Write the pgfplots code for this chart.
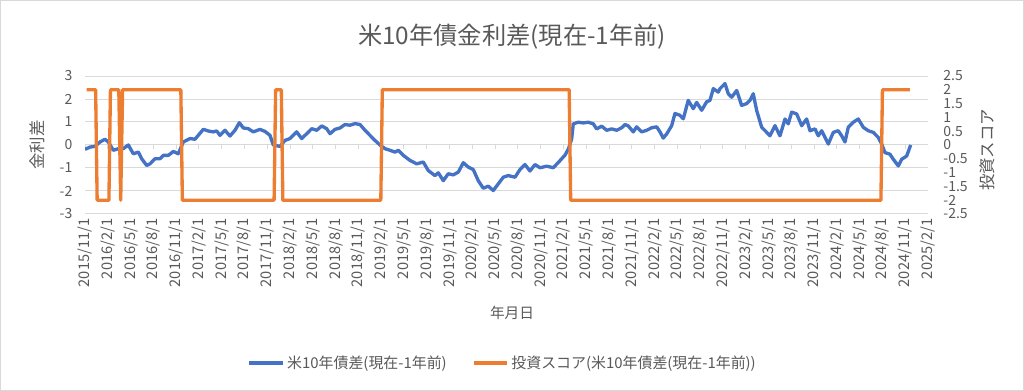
\documentclass[border=0pt]{standalone}
\usepackage{fontspec}
\setmainfont{Noto Sans CJK JP}
\usepackage{pgfplots}
\pgfplotsset{compat=1.18}
\definecolor{exblue}{HTML}{4472C4}
\definecolor{exorange}{HTML}{ED7D31}
\definecolor{txt}{HTML}{595959}
\definecolor{gridc}{HTML}{D9D9D9}
\begin{document}
\begin{tikzpicture}[font=\fontsize{10.5}{12}\selectfont]
\draw[gridc, line width=0.75pt] (0.375pt,0.375pt) rectangle (767.625pt,292.875pt);
\node[text=txt, font=\fontsize{18.2}{21}\selectfont] at (384pt,265.5pt) {米10年債金利差(現在-1年前)};
\node[text=txt, font=\fontsize{11}{13}\selectfont] at (384pt,58.5pt) {年月日};
\node[text=txt, rotate=90, font=\fontsize{12.3}{14}\selectfont] at (27.75pt,184.5pt) {金利差};
\node[text=txt, rotate=90, font=\fontsize{12.3}{14}\selectfont] at (740.25pt,180.75pt) {投資スコア};
\begin{axis}[
 at={(63.75pt,132.75pt)}, anchor=south west,
 width=632.25pt, height=103.5pt, scale only axis,
 xmin=0, xmax=111, ymin=-3, ymax=3,
 xtick={0,3,...,111},
 xticklabels={2015/11/1,2016/2/1,2016/5/1,2016/8/1,2016/11/1,2017/2/1,2017/5/1,2017/8/1,2017/11/1,2018/2/1,2018/5/1,2018/8/1,2018/11/1,2019/2/1,2019/5/1,2019/8/1,2019/11/1,2020/2/1,2020/5/1,2020/8/1,2020/11/1,2021/2/1,2021/5/1,2021/8/1,2021/11/1,2022/2/1,2022/5/1,2022/8/1,2022/11/1,2023/2/1,2023/5/1,2023/8/1,2023/11/1,2024/2/1,2024/5/1,2024/8/1,2024/11/1,2025/2/1},
 ytick={-3,-2,-1,0,1,2,3},
 ymajorgrids, grid style={gridc, line width=0.75pt},
 axis line style={draw=none},
 major tick length=0pt,
 xticklabel style={rotate=90, anchor=east, text=txt, font=\fontsize{11}{13}\selectfont},
 yticklabel style={text=txt, xshift=-6pt},
 /pgf/number format/assume math mode=true,
]
\pgfplotsinvokeforeach{0,3,6,9,12,15,18,21,24,27,30,33,36,39,42,45,48,51,54,57,60,63,66,69,72,75,78,81,84,87,90,93,96,99,102,105,108,111}{
 \draw[gridc, line width=0.75pt] (axis cs:#1,0) -- ([yshift=-3pt]axis cs:#1,0);
}
\addplot[exblue, line width=2.5pt, line join=round] coordinates {
(0,-0.19)(0.66,-0.09)(1.32,-0.06)(1.97,0.13)(2.63,0.25)(3.07,0.13)(3.73,-0.23)(4.38,-0.16)(5.04,-0.16)(5.70,0.00)
(6.36,-0.38)(7.02,-0.31)(7.47,-0.60)(8.12,-0.89)(8.56,-0.82)(9.22,-0.60)(9.87,-0.60)(10.31,-0.45)(10.97,-0.45)(11.63,-0.28)
(12.28,-0.38)(12.94,0.13)(13.82,0.28)(14.48,0.25)(15.58,0.68)(16.23,0.61)(16.89,0.57)(17.34,0.61)(17.77,0.42)(18.43,0.64)
(19.09,0.39)(19.75,0.64)(20.32,0.97)(20.84,0.74)(21.50,0.71)(22.16,0.57)(23.04,0.68)(23.70,0.59)(24.36,0.42)(24.79,0.00)
(25.67,-0.06)(26.33,0.20)(26.99,0.28)(27.87,0.57)(28.53,0.28)(29.19,0.49)(29.85,0.71)(30.51,0.64)(31.17,0.83)(31.82,0.71)
(32.26,0.49)(32.92,0.68)(33.57,0.74)(34.23,0.89)(34.89,0.86)(35.55,0.93)(36.21,0.89)(36.87,0.64)(37.52,0.42)(38.18,0.20)
(38.84,0.00)(39.50,-0.16)(40.16,-0.23)(40.82,-0.31)(41.25,-0.23)(41.91,-0.45)(42.79,-0.67)(43.67,-0.82)(44.54,-0.74)(45.20,-1.11)
(46.08,-1.33)(46.52,-1.21)(47.18,-1.55)(47.83,-1.25)(48.49,-1.30)(49.15,-1.18)(49.81,-0.77)(50.47,-0.96)(51.13,-1.07)(51.78,-1.55)
(52.44,-1.88)(53.10,-1.79)(53.76,-1.98)(54.42,-1.69)(55.08,-1.40)(55.73,-1.33)(56.62,-1.40)(57.27,-1.07)(57.93,-0.85)(58.59,-1.13)
(59.25,-0.85)(59.91,-0.99)(60.79,-0.92)(61.66,-0.99)(62.32,-0.76)(63.20,-0.44)(63.64,-0.18)(64.08,0.26)(64.29,0.92)(64.95,0.99)
(65.61,0.96)(66.27,0.99)(66.93,0.92)(67.37,0.70)(68.03,0.82)(68.69,0.64)(69.35,0.70)(70.01,0.64)(70.67,0.75)(71.10,0.89)
(71.53,0.83)(72.19,0.57)(72.64,0.79)(73.30,0.57)(73.96,0.64)(74.62,0.75)(75.27,0.79)(75.71,0.57)(76.14,0.30)(76.59,0.48)
(77.25,0.84)(77.68,1.37)(78.34,1.29)(78.78,1.14)(79.43,1.94)(80.09,1.58)(80.54,1.85)(81.20,1.51)(81.86,1.88)(82.29,1.94)
(82.73,2.45)(83.38,2.30)(83.61,2.45)(84.27,2.67)(84.70,2.23)(85.15,2.08)(85.81,2.37)(86.46,1.72)(87.12,1.80)(87.56,1.94)
(87.99,2.23)(88.44,1.50)(89.10,0.77)(89.76,0.55)(90.19,0.40)(90.85,0.84)(91.51,0.40)(92.17,1.13)(92.60,0.92)(93.05,1.43)
(93.71,1.35)(94.37,0.84)(95.02,1.13)(95.46,0.62)(96.12,0.70)(96.55,0.40)(97.00,0.62)(97.87,0.04)(98.53,0.55)(99.18,0.62)
(99.63,0.40)(100.07,0.13)(100.50,0.77)(101.16,0.99)(101.82,1.13)(102.48,0.77)(103.13,0.62)(103.79,0.55)(104.45,0.33)(104.90,0.04)
(105.33,-0.33)(105.99,-0.40)(106.43,-0.62)(107.09,-0.91)(107.53,-0.62)(108.19,-0.48)(108.72,0.00)
};
\end{axis}
\begin{axis}[
 at={(63.75pt,132.75pt)}, anchor=south west,
 width=632.25pt, height=103.5pt, scale only axis,
 xmin=0, xmax=111, ymin=-2.5, ymax=2.5,
 axis x line=none, axis y line*=right,
 ytick={-2.5,-2,-1.5,-1,-0.5,0,0.5,1,1.5,2,2.5},
 axis line style={draw=none},
 major tick length=0pt,
 yticklabel style={text=txt, anchor=west, xshift=8pt},
 /pgf/number format/assume math mode=true,
 legend columns=2,
 legend style={at={(0.496,-1.08)}, anchor=center, draw=none, text=txt,
   font=\fontsize{11.2}{13}\selectfont,
   /tikz/every even column/.append style={column sep=17pt}},
 legend cell align=left,
 legend image code/.code={\draw[#1] (0pt,0pt) -- (25pt,0pt);},
]
\addlegendimage{exblue, line width=2.5pt}
\addlegendentry[xshift=-2pt]{米10年債差(現在-1年前)}
\addplot[exorange, line width=2.5pt, line join=round] coordinates {
(0.2,2)(1.4,2)(1.6,-2)(3.15,-2)(3.35,2)(4.45,2)(4.7,-2)(4.95,2)(12.62,2)(12.82,-2)
(24.9,-2)(25.1,2)(25.85,2)(26.05,-2)(38.95,-2)(39.15,2)(63.75,2)(63.95,-2)(104.8,-2)(105.0,2)(108.6,2)
};
\addlegendentry[xshift=-2pt]{投資スコア(米10年債差(現在-1年前))}
\end{axis}
\pgfresetboundingbox
\path (0,0) rectangle (768pt,293.25pt);
\end{tikzpicture}
\end{document}
